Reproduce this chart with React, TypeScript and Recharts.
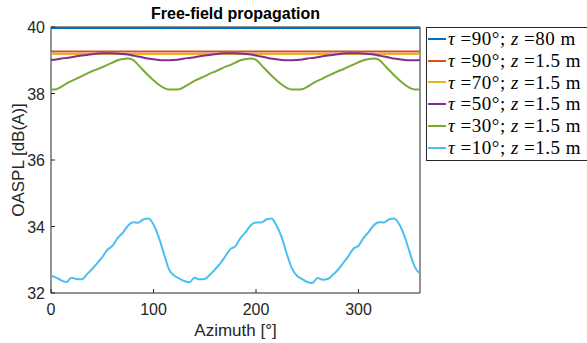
import React from "react";
import {
  LineChart,
  Line,
  XAxis,
  YAxis,
  CartesianGrid,
  ReferenceArea,
} from "recharts";

// ---- data ----
const azimuth = [
  0, 5, 10, 15, 20, 25, 30, 35, 40, 45, 50, 55, 60, 65, 70, 75, 80, 85, 90, 95, 100, 105, 110, 115,
  120, 125, 130, 135, 140, 145, 150, 155, 160, 165, 170, 175, 180, 185, 190, 195, 200, 205, 210, 215, 220, 225, 230, 235,
  240, 245, 250, 255, 260, 265, 270, 275, 280, 285, 290, 295, 300, 305, 310, 315, 320, 325, 330, 335, 340, 345, 350, 355,
  360,
];

const tau10 = [
  32.52, 32.46, 32.38, 32.33, 32.46, 32.42, 32.41, 32.56, 32.72, 32.89, 33.08, 33.30, 33.42, 33.65, 33.81, 34.02, 34.13, 34.11, 34.21, 34.24, 34.06, 33.69, 33.20, 32.72,
  32.53, 32.44, 32.36, 32.32, 32.46, 32.41, 32.42, 32.55, 32.71, 32.88, 33.10, 33.32, 33.41, 33.66, 33.83, 34.04, 34.12, 34.12, 34.21, 34.24, 34.03, 33.68, 33.18, 32.74,
  32.52, 32.42, 32.33, 32.30, 32.45, 32.40, 32.42, 32.55, 32.70, 32.90, 33.10, 33.33, 33.42, 33.66, 33.84, 34.04, 34.13, 34.12, 34.22, 34.24, 34.05, 33.70, 33.22, 32.78,
  32.58,
];

const tau30 = [
  38.12, 38.13, 38.20, 38.30, 38.38, 38.45, 38.52, 38.60, 38.67, 38.73, 38.79, 38.86, 38.93, 39.00, 39.04, 39.05, 39.01, 38.86, 38.70, 38.54, 38.40, 38.27, 38.17, 38.12,
  38.12, 38.13, 38.20, 38.29, 38.38, 38.45, 38.52, 38.60, 38.66, 38.73, 38.80, 38.86, 38.93, 39.00, 39.04, 39.05, 39.01, 38.86, 38.70, 38.54, 38.40, 38.27, 38.17, 38.12,
  38.12, 38.13, 38.20, 38.30, 38.38, 38.45, 38.53, 38.60, 38.67, 38.73, 38.80, 38.87, 38.94, 39.00, 39.04, 39.05, 39.01, 38.86, 38.70, 38.54, 38.40, 38.27, 38.17, 38.12,
  38.12,
];

const tau50 = [
  39.01, 39.02, 39.05, 39.07, 39.09, 39.12, 39.14, 39.16, 39.18, 39.20, 39.21, 39.21, 39.21, 39.20, 39.19, 39.17, 39.14, 39.11, 39.08, 39.05, 39.03, 39.01, 39.00, 39.00,
  39.01, 39.02, 39.05, 39.07, 39.09, 39.12, 39.14, 39.16, 39.18, 39.20, 39.21, 39.21, 39.21, 39.20, 39.19, 39.17, 39.14, 39.11, 39.08, 39.05, 39.03, 39.01, 39.00, 39.00,
  39.01, 39.02, 39.05, 39.07, 39.09, 39.12, 39.14, 39.16, 39.18, 39.20, 39.21, 39.21, 39.21, 39.20, 39.19, 39.17, 39.14, 39.11, 39.08, 39.05, 39.03, 39.01, 39.00, 39.00,
  39.01,
];

const flatAzimuth = [0, 45, 90, 135, 180, 225, 270, 315, 360];
const tau90z80 = [39.97, 39.97, 39.97, 39.97, 39.97, 39.97, 39.97, 39.97, 39.97];
const tau90 = [39.26, 39.26, 39.26, 39.26, 39.26, 39.26, 39.26, 39.26, 39.26];
const tau70 = [39.19, 39.19, 39.19, 39.19, 39.19, 39.19, 39.19, 39.19, 39.19];

const xTicks = [0, 100, 200, 300];
const yTicks = [32, 34, 36, 38, 40];

const seriesNames = [
  { tau: "90", z: "80" },
  { tau: "90", z: "1.5" },
  { tau: "70", z: "1.5" },
  { tau: "50", z: "1.5" },
  { tau: "30", z: "1.5" },
  { tau: "10", z: "1.5" },
];
const colors = ["#0072BD", "#D95319", "#EDB120", "#7E2F8E", "#77AC30", "#4DBEEE"];

const mainData = azimuth.map((a, i) => ({
  az: a,
  t50: tau50[i],
  t30: tau30[i],
  t10: tau10[i],
}));
const flat80 = flatAzimuth.map((a, i) => ({ az: a, v: tau90z80[i] }));
const flat90 = flatAzimuth.map((a, i) => ({ az: a, v: tau90[i] }));
const flat70 = flatAzimuth.map((a, i) => ({ az: a, v: tau70[i] }));

const AX = "#262626";
const SANS = "'Liberation Sans', Arial, Helvetica, sans-serif";
const SERIF = "'Liberation Serif', 'DejaVu Serif', serif";

const XTick = (props: any) => {
  const { x, y, payload } = props;
  return (
    <g>
      <line x1={x} x2={x} y1={y} y2={y - 4} stroke={AX} strokeWidth={1} />
      <text x={x} y={y + 22} textAnchor="middle" fill={AX} fontSize={16} fontFamily={SANS}>
        {payload.value}
      </text>
    </g>
  );
};
const XTopTick = (props: any) => {
  const { x, y } = props;
  return <line x1={x} x2={x} y1={y} y2={y + 4} stroke={AX} strokeWidth={1} />;
};
const YTick = (props: any) => {
  const { x, y, payload } = props;
  return (
    <g>
      <line x1={x} x2={x + 4} y1={y} y2={y} stroke={AX} strokeWidth={1} />
      <text x={x - 6} y={y + 6} textAnchor="end" fill={AX} fontSize={16} fontFamily={SANS}>
        {payload.value}
      </text>
    </g>
  );
};
const YRightTick = (props: any) => {
  const { x, y } = props;
  return <line x1={x} x2={x - 4} y1={y} y2={y} stroke={AX} strokeWidth={1} />;
};

export default function App() {
  return (
    <div style={{ position: "absolute", left: 0, top: 0, width: 587, height: 343, background: "#fff", overflow: "hidden" }}>
      <LineChart
        width={587}
        height={343}
        data={mainData}
        margin={{ top: 27, right: 167, bottom: 0, left: 0 }}
      >
        <CartesianGrid
          stroke="#dfdfdf"
          strokeWidth={1}
          horizontalValues={[34, 36, 38]}
          verticalValues={[100, 200, 300]}
        />
        <XAxis
          dataKey="az"
          type="number"
          domain={[0, 360]}
          ticks={xTicks}
          allowDataOverflow
          height={50}
          tickSize={0}
          tickMargin={0}
          axisLine={false}
          tick={<XTick />}
          xAxisId="b"
        />
        <XAxis
          dataKey="az"
          type="number"
          domain={[0, 360]}
          ticks={xTicks}
          orientation="top"
          height={0}
          tickSize={0}
          tickMargin={0}
          axisLine={false}
          tick={<XTopTick />}
          xAxisId="t"
        />
        <YAxis
          type="number"
          domain={[32, 40]}
          ticks={yTicks}
          allowDataOverflow
          width={51}
          tickSize={0}
          tickMargin={0}
          axisLine={false}
          tick={<YTick />}
          yAxisId="l"
        />
        <YAxis
          type="number"
          domain={[32, 40]}
          ticks={yTicks}
          orientation="right"
          width={0}
          tickSize={0}
          tickMargin={0}
          axisLine={false}
          tick={<YRightTick />}
          yAxisId="r"
        />
        <Line data={flat80} dataKey="v" xAxisId="b" yAxisId="l" stroke={colors[0]} strokeWidth={2.2} dot={false} isAnimationActive={false} />
        <Line data={flat90} dataKey="v" xAxisId="b" yAxisId="l" stroke={colors[1]} strokeWidth={2} dot={false} isAnimationActive={false} />
        <Line data={flat70} dataKey="v" xAxisId="b" yAxisId="l" stroke={colors[2]} strokeWidth={2} dot={false} isAnimationActive={false} />
        <Line dataKey="t50" xAxisId="b" yAxisId="l" stroke={colors[3]} strokeWidth={2} dot={false} isAnimationActive={false} type="monotone" />
        <Line dataKey="t30" xAxisId="b" yAxisId="l" stroke={colors[4]} strokeWidth={2} dot={false} isAnimationActive={false} type="monotone" />
        <Line dataKey="t10" xAxisId="b" yAxisId="l" stroke={colors[5]} strokeWidth={2} dot={false} isAnimationActive={false} type="monotone" />
        <ReferenceArea
          x1={0}
          x2={360}
          y1={32}
          y2={40}
          xAxisId="b"
          yAxisId="l"
          fill="none"
          fillOpacity={0}
          stroke={AX}
          strokeWidth={1}
          ifOverflow="visible"
        />
      </LineChart>

      <div
        style={{
          position: "absolute",
          left: 0,
          width: 471,
          top: 4,
          textAlign: "center",
          fontFamily: SANS,
          fontWeight: "bold",
          fontSize: 16,
          color: "#000",
          lineHeight: "20px",
        }}
      >
        Free-field propagation
      </div>

      <div
        style={{
          position: "absolute",
          left: 51,
          width: 369,
          top: 321,
          textAlign: "center",
          fontFamily: SANS,
          fontSize: 17,
          color: AX,
          lineHeight: "20px",
        }}
      >
        Azimuth [°]
      </div>

      <div
        style={{
          position: "absolute",
          left: 19,
          top: 160,
          transform: "translate(-50%, -50%) rotate(-90deg)",
          whiteSpace: "nowrap",
          fontFamily: SANS,
          fontSize: 17,
          color: AX,
          lineHeight: "20px",
        }}
      >
        OASPL [dB(A)]
      </div>

      <div
        style={{
          position: "absolute",
          left: 426,
          top: 27,
          width: 170,
          height: 134,
          border: "1px solid #262626",
          background: "#fff",
          boxSizing: "border-box",
          paddingTop: 0,
        }}
      >
        {seriesNames.map((s, i) => (
          <div
            key={i}
            style={{
              display: "flex",
              alignItems: "center",
              height: 21.8,
              fontFamily: SERIF,
              fontSize: 19,
              letterSpacing: 0.5,
              color: "#000",
              whiteSpace: "nowrap",
            }}
          >
            <span
              style={{
                display: "inline-block",
                width: 18,
                height: 2,
                background: colors[i],
                marginLeft: 1,
                marginRight: 2,
              }}
            />
            <span>
              <i>τ</i>&nbsp;={s.tau}°;&nbsp;
              <i>z</i>&nbsp;={s.z}&nbsp;m
            </span>
          </div>
        ))}
      </div>
    </div>
  );
}
